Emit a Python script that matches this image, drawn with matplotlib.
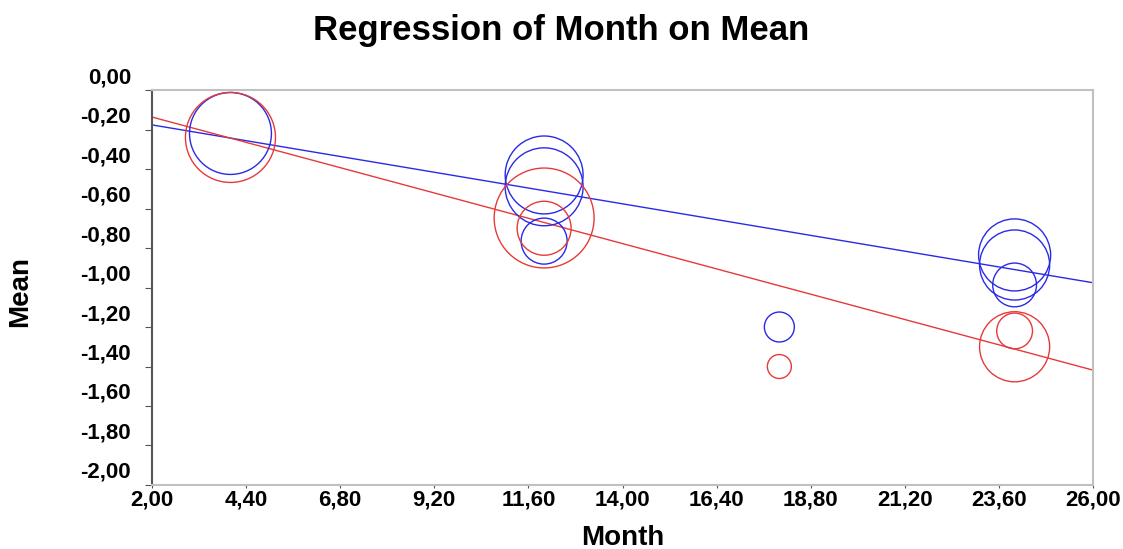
# Regression of Month on Mean, bubble plot with two fitted lines
import numpy as np
import matplotlib.pyplot as plt
import matplotlib.transforms as mtransforms
from matplotlib.ticker import FuncFormatter

plt.rcParams["font.family"] = ["Liberation Sans", "DejaVu Sans"]
plt.rcParams["font.weight"] = "bold"

# Group 1 (blue)
blue_month = [4, 12, 12, 12, 18, 24, 24, 24]
blue_mean = [-0.22, -0.43, -0.49, -0.765, -1.20, -0.835, -0.886, -0.987]
blue_weight = [16.8, 15.2, 15.2, 5.3, 2.25, 13.0, 12.3, 4.8]

# Group 2 (red)
red_month = [4, 12, 12, 18, 24, 24]
red_mean = [-0.24, -0.648, -0.70, -1.40, -1.30, -1.22]
red_weight = [20.3, 25.0, 7.3, 1.44, 12.3, 3.2]

# Fitted lines (intercept, slope)
blue_fit = (-0.110, -0.0333)
red_fit = (-0.030, -0.0534)

x_ticks = np.arange(2, 26.01, 2.4)
y_ticks = np.arange(-2.0, 0.01, 0.2)

blue = "#2a2ae6"
red = "#e63a3a"

fig = plt.figure(figsize = (11.23, 5.49), dpi = 100)
ax = fig.add_axes([0.1354, 0.1166, 0.8379, 0.7194])

# Bubbles: area proportional to weight
ax.scatter(blue_month, blue_mean, s = np.array(blue_weight) * 207, facecolors = "none",
           edgecolors = blue, linewidths = 1.0, zorder = 3)
ax.scatter(red_month, red_mean, s = np.array(red_weight) * 207, facecolors = "none",
           edgecolors = red, linewidths = 1.0, zorder = 3)

# Regression lines
xs = np.array([2, 26])
ax.plot(xs, blue_fit[0] + blue_fit[1] * xs, color = blue, lw = 1.0, zorder = 2)
ax.plot(xs, red_fit[0] + red_fit[1] * xs, color = red, lw = 1.0, zorder = 2)

ax.set_xlim(2, 26)
ax.set_ylim(-2, 0)
ax.set_xticks(x_ticks)
ax.set_yticks(y_ticks)
comma = FuncFormatter(lambda v, p: f"{v:.2f}".replace(".", ",").replace("-0,00", "0,00"))
ax.xaxis.set_major_formatter(comma)
ax.yaxis.set_major_formatter(comma)
ax.tick_params(axis = "both", labelsize = 16, direction = "out", color = "#555555")
ax.tick_params(axis = "y", length = 5, pad = 10)
ax.tick_params(axis = "x", length = 2, pad = 1)

# y tick labels sit a bit above their ticks in the original
shift = mtransforms.ScaledTranslation(0, 0.15, fig.dpi_scale_trans)
for lab in ax.get_yticklabels():
    lab.set_transform(lab.get_transform() + shift)

for side in ["top", "right", "bottom"]:
    ax.spines[side].set_color("#c0c0c0")
    ax.spines[side].set_linewidth(1.5)
ax.spines["left"].set_color("#555555")
ax.spines["left"].set_linewidth(1.5)

fig.text(0.5, 1 - 40 / 549, "Regression of Month on Mean", fontsize = 25,
         fontweight = "bold", ha = "center", va = "baseline")
ax.set_xlabel("Month", fontsize = 20, fontweight = "bold")
ax.xaxis.set_label_coords(0.5, -0.101)
ax.set_ylabel("Mean", fontsize = 20, fontweight = "bold")
ax.yaxis.set_label_coords(-0.1265, 0.49)

fig.savefig("out.png", dpi = 100)
